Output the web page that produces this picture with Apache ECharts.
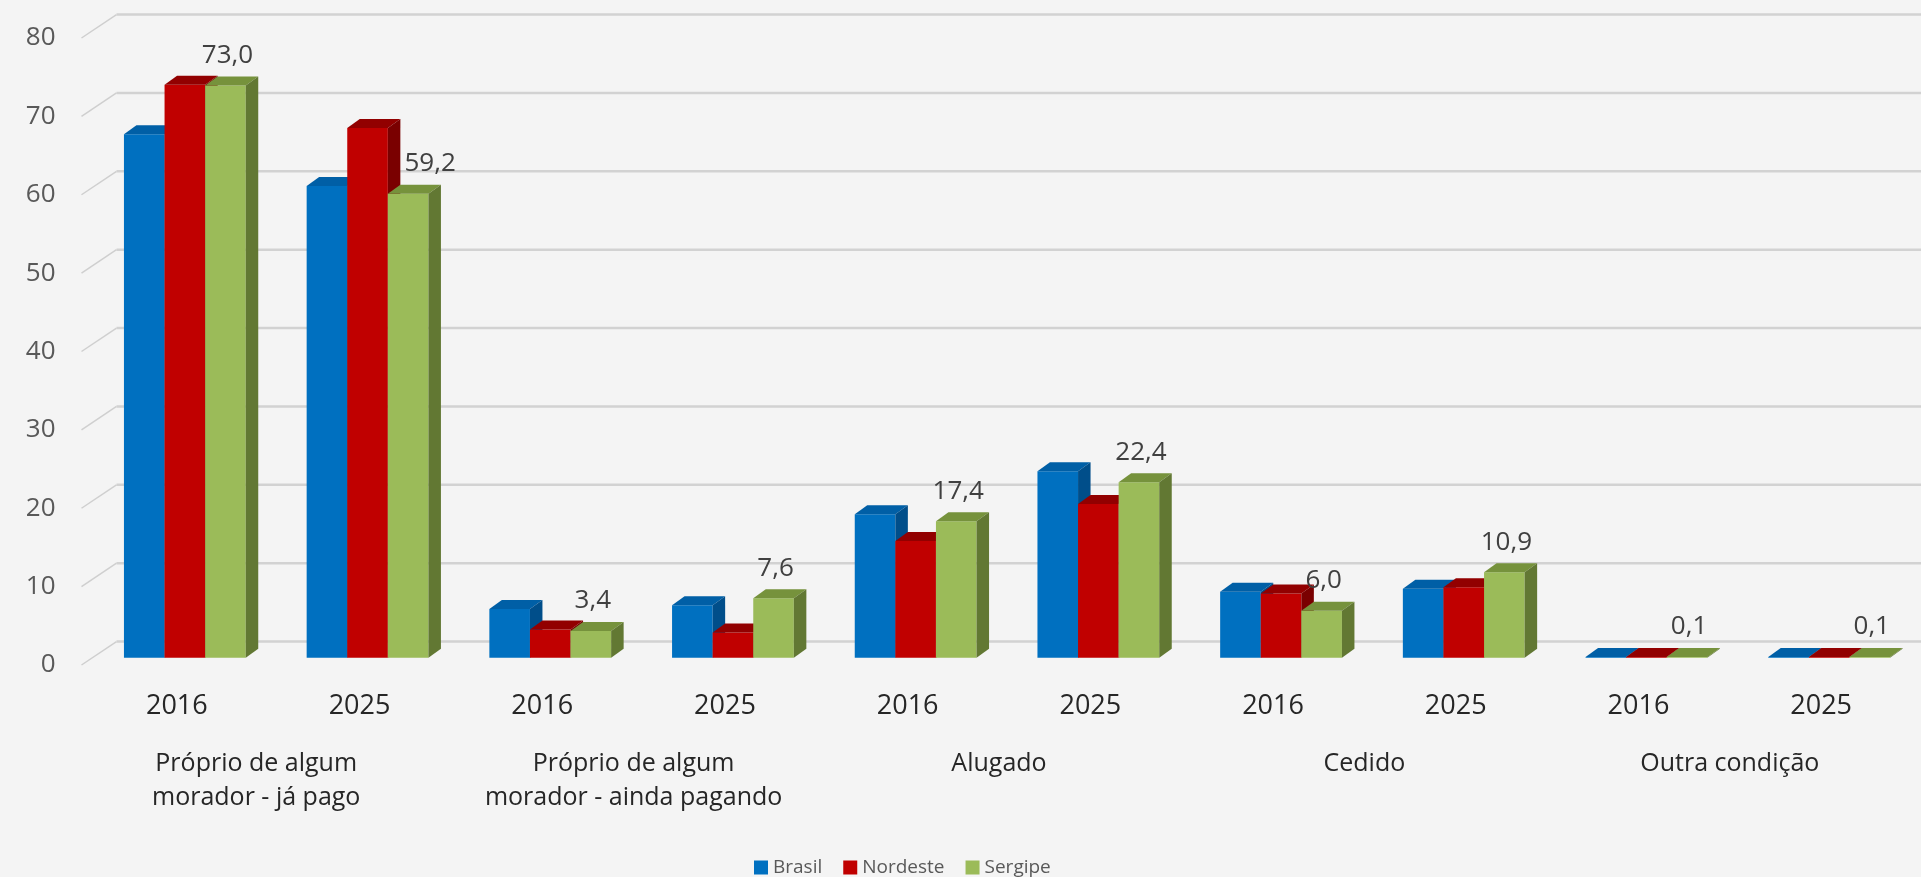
<!DOCTYPE html>
<html>
<head>
	<meta charset="UTF-8">
	<title>Condição de ocupação do domicílio</title>
	<script src="https://cdn.jsdelivr.net/npm/echarts@6/dist/echarts.min.js"></script>
	<style>
		html, body { margin: 0; padding: 0; background: #f3f3f3; }
		#chart1 { width: 1921px; height: 877px; }
	</style>
</head>
<body>
	<div id="chart1"></div>
<script type="text/javascript">
	// dados (%)
	var anos = ['2016', '2025', '2016', '2025', '2016', '2025', '2016', '2025', '2016', '2025'];
	var condicoes = ['Próprio de algum\nmorador - já pago', 'Próprio de algum\nmorador - ainda pagando', 'Alugado', 'Cedido', 'Outra condição'];
	var brasil = [66.8, 60.2, 6.2, 6.7, 18.3, 23.8, 8.4, 8.8, 0.1, 0.1];
	var nordeste = [73.1, 67.6, 3.6, 3.2, 14.9, 19.6, 8.2, 9.0, 0.1, 0.1];
	var sergipe = [73.0, 59.2, 3.4, 7.6, 17.4, 22.4, 6.0, 10.9, 0.1, 0.1];
	var ticksY = [0, 10, 20, 30, 40, 50, 60, 70, 80];

	var fonte = '"Open Sans", sans-serif';

	// cores: frente, topo, lateral
	var cores = [
		['#0070C0', '#005fa6', '#004e8a'],
		['#C00000', '#920000', '#7a0000'],
		['#9BBB59', '#76923c', '#627833']
	];
	// o rótulo 59,2 foi afastado para a direita no original
	var ajusteRotulo = { 1: 20 };

	var chart1 = echarts.init(document.getElementById('chart1'));

	// barras "3D" desenhadas sobre os eixos
	function barra3d(k, comRotulo) {
		return function (params, api) {
			var i = api.value(0), v = api.value(1);
			var base = api.coord([i, 0]);
			var topo = api.coord([i, v]);
			var bw = api.size([1, 0])[0] * 0.2222;
			var sx = 8, sy = -7.3;     // deslocamento da frente da barra
			var dx = 12.5, dy = -9;    // profundidade da barra
			var x = base[0] - 1.5 * bw + k * bw + sx;
			var yb = base[1] + sy, yt = topo[1] + sy;
			var c = cores[k];
			var filhos = [
				{ type: 'rect', shape: { x: x, y: yt, width: bw, height: yb - yt }, style: { fill: c[0] } },
				{ type: 'polygon', shape: { points: [[x, yt], [x + dx, yt + dy], [x + bw + dx, yt + dy], [x + bw, yt]] }, style: { fill: c[1] } },
				{ type: 'polygon', shape: { points: [[x + bw, yt], [x + bw + dx, yt + dy], [x + bw + dx, yb + dy], [x + bw, yb]] }, style: { fill: c[2] } }
			];
			if (comRotulo) {
				filhos.push({
					type: 'text',
					style: {
						text: v.toFixed(1).replace('.', ','),
						x: x + bw / 2 + 2 + (ajusteRotulo[i] || 0), y: yt - 30,
						align: 'center', verticalAlign: 'middle',
						fontSize: 26, fontFamily: fonte, fill: '#404040'
					}
				});
			}
			return { type: 'group', children: filhos };
		};
	}

	// linhas de grade da parede do fundo
	function parede(params, api) {
		var y = api.coord([0, api.value(1)])[1];
		var cs = params.coordSys;
		var x0 = cs.x - 4, x1 = cs.x + 31;
		return {
			type: 'group',
			children: [
				{ type: 'line', shape: { x1: x0, y1: y, x2: x1, y2: y - 23.4 }, style: { stroke: '#cfcfcf', lineWidth: 1.5 } },
				{ type: 'line', shape: { x1: x1, y1: y - 23.4, x2: cs.x + cs.width + 60, y2: y - 23.4 }, style: { stroke: '#d2d2d2', lineWidth: 2.5 } }
			]
		};
	}

	function pares(arr) {
		return arr.map(function (v, i) { return [i, v]; });
	}

	var option = {
		backgroundColor: '#f4f4f4',
		animation: false,
		textStyle: { fontFamily: fonte },
		grid: { left: 85.5, right: 8.5, top: 38, bottom: 212 },
		legend: {
			data: ['Brasil', 'Nordeste', 'Sergipe'],
			left: 749, top: 853,
			icon: 'rect', itemWidth: 14, itemHeight: 14, itemGap: 21,
			textStyle: { fontSize: 19, color: '#595959', fontFamily: fonte }
		},
		xAxis: [{
			type: 'category',
			data: anos,
			axisLine: { show: false },
			axisTick: { show: false },
			axisLabel: { margin: 28, fontSize: 27, lineHeight: 27, color: '#262626', fontFamily: fonte },
			splitLine: { show: false }
		}, {
			type: 'category',
			data: condicoes,
			position: 'bottom',
			axisLine: { show: false },
			axisTick: { show: false },
			axisLabel: {
				margin: 82, fontSize: 25, lineHeight: 34, color: '#262626', fontFamily: fonte, interval: 0,
				formatter: function (txt, idx) {
					if (idx === 0) {
						return txt.split('\n').map(function (l) { return '{a|' + l + '}'; }).join('\n');
					}
					return txt;
				},
				rich: { a: { fontSize: 25, lineHeight: 34, color: '#262626', fontFamily: fonte, padding: [0, 24, 0, 0] } }
			},
			splitLine: { show: false }
		}],
		yAxis: {
			type: 'value',
			min: 0, max: 80, interval: 10,
			axisLine: { show: false },
			axisTick: { show: false },
			splitLine: { show: false },
			axisLabel: { margin: 30, fontSize: 26, color: '#595959', fontFamily: fonte, padding: [7, 0, 0, 0] }
		},
		series: [{
			name: 'parede',
			type: 'custom',
			renderItem: parede,
			data: ticksY.map(function (t) { return [0, t]; }),
			clip: false,
			silent: true,
			z: 1
		}, {
			name: 'Brasil',
			type: 'custom',
			renderItem: barra3d(0, false),
			itemStyle: { color: cores[0][0] },
			data: pares(brasil),
			clip: false,
			z: 2
		}, {
			name: 'Nordeste',
			type: 'custom',
			renderItem: barra3d(1, false),
			itemStyle: { color: cores[1][0] },
			data: pares(nordeste),
			clip: false,
			z: 3
		}, {
			name: 'Sergipe',
			type: 'custom',
			renderItem: barra3d(2, true),
			itemStyle: { color: cores[2][0] },
			data: pares(sergipe),
			clip: false,
			z: 4
		}]
	};

	chart1.setOption(option);
</script>
</body>
</html>
